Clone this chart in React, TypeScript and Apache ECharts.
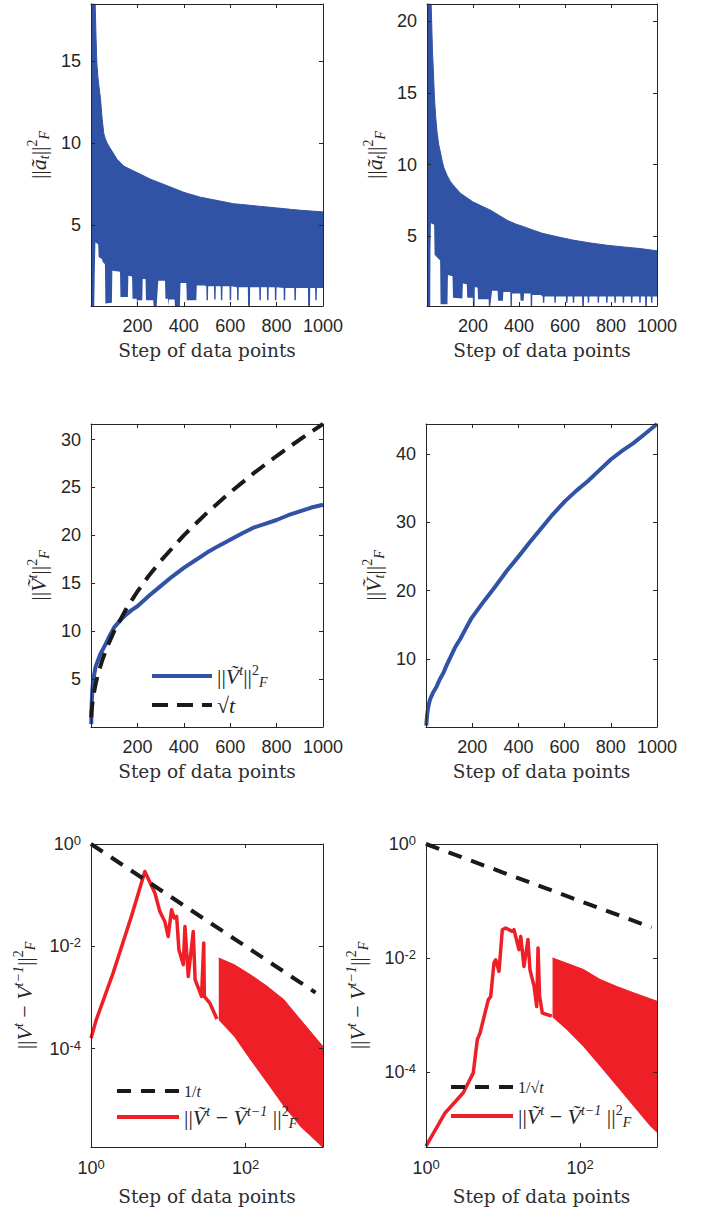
import React, { useEffect, useRef } from 'react';
import * as echarts from 'echarts';

const W = 709;
const H = 1214;
const BLUE = '#3153a5';
const RED = '#ee1f26';
const BLACK = '#1a1a1a';
const DARK = '#262626';
const SANS = '"Liberation Sans", Arial, Helvetica, sans-serif';
const SERIF = '"Liberation Serif", "Times New Roman", serif';
const NAME_SERIF = '"DejaVu Serif", serif';

// ---------- shared tick labels ----------
const stepTicks = [200, 400, 600, 800, 1000];
const logXTicks = [1, 100];
const logYTicks = [1e-4, 1e-2, 1];

// ---------- Panel 1: ||a_t||_F^2 (left) ----------
const p1YTicks = [5, 10, 15];
const p1Upper: number[][] = [
  [1, 18.5], [18, 18.5], [20, 17.4], [22, 16.35], [24, 15.4], [26, 14.7], [30, 14.0], [34, 13.5],
  [41, 12.7], [48, 11.5], [55, 10.6], [62, 10.25], [70, 10.0], [80, 9.75], [91, 9.5], [102, 9.25],
  [113, 9.0], [127, 8.8], [141, 8.6], [162, 8.45], [184, 8.3], [220, 8.05], [256, 7.8], [292, 7.6],
  [328, 7.4], [364, 7.2], [399, 7.0], [435, 6.85], [471, 6.7], [507, 6.6], [543, 6.5], [578, 6.4],
  [614, 6.3], [650, 6.25], [686, 6.2], [722, 6.15], [758, 6.1], [794, 6.05], [829, 6.0], [865, 5.95],
  [901, 5.9], [950, 5.85], [1000, 5.8],
];
const p1Lower: number[][] = [
  [1, 0.05], [14, 0.05], [16, 2.0], [19, 3.95], [31, 3.8], [33, 3.05], [48, 2.9], [50, 2.75], [60, 2.6],
  [62, 0.2], [90, 0.25], [92, 2.2], [125, 2.15], [127, 0.6], [159, 0.6], [161, 1.9], [177, 1.85],
  [179, 0.5], [197, 0.5], [198, 0.05], [200, 0.05], [201, 0.4], [221, 0.4], [223, 1.7], [235, 1.7],
  [237, 0.4], [268, 0.4], [270, 0.05], [283, 0.05], [290, 1.6], [319, 1.6], [321, 0.5], [332, 0.5],
  [333, 0.05], [335, 0.05], [336, 0.45], [360, 0.45], [362, 0.05], [383, 0.05], [386, 1.45], [411, 1.45],
  [413, 0.4], [454, 0.4], [456, 1.3], [489, 1.3], [497, 1.25], [498, 0.4], [504, 0.4], [505, 1.25],
  [530, 1.25], [531, 0.45], [537, 0.45], [538, 1.25], [559, 1.25], [560, 0.4], [566, 0.4], [567, 1.25],
  [597, 1.25], [598, 0.4], [604, 0.4], [605, 1.25], [629, 1.2], [630, 0.4], [636, 0.4], [637, 1.2],
  [676, 1.2], [677, 0.05], [685, 0.05], [686, 1.2], [725, 1.2], [726, 0.4], [732, 0.4], [733, 1.2],
  [758, 1.2], [759, 0.4], [765, 0.4], [766, 1.2], [792, 1.2], [793, 0.4], [799, 0.4], [800, 1.2],
  [830, 1.15], [831, 0.4], [837, 0.4], [838, 1.15], [876, 1.15], [877, 0.4], [883, 0.4], [884, 1.15],
  [935, 1.15], [936, 0.05], [944, 0.05], [945, 1.15], [966, 1.15], [967, 0.4], [973, 0.4], [974, 1.15],
  [1000, 1.15],
];

// ---------- Panel 2: ||a_t||_F^2 (right) ----------
const p2YTicks = [5, 10, 15, 20];
const p2Upper: number[][] = [
  [1, 21.2], [18, 21.2], [20, 20.1], [22, 19.0], [24, 17.8], [27, 16.8], [30, 15.6], [33, 14.5],
  [38, 13.3], [44, 12.2], [51, 11.4], [59, 10.8], [66, 10.25], [73, 9.8], [87, 9.25], [102, 8.8],
  [123, 8.4], [145, 8.0], [172, 7.7], [199, 7.4], [238, 7.1], [278, 6.8], [314, 6.45], [350, 6.1],
  [386, 5.85], [423, 5.65], [462, 5.42], [502, 5.2], [570, 4.95], [637, 4.72], [710, 4.53], [782, 4.37],
  [854, 4.25], [926, 4.14], [1000, 3.98],
];
const p2Lower: number[][] = [
  [1, 0.13], [14, 0.13], [15, 4.0], [17, 5.9], [31, 5.8], [33, 3.7], [57, 3.3], [59, 0.25], [89, 0.25],
  [91, 2.3], [111, 2.2], [113, 0.7], [154, 0.65], [156, 1.7], [173, 1.65], [175, 0.7], [199, 0.7],
  [200, 0.13], [207, 0.13], [208, 1.45], [220, 1.4], [222, 0.6], [268, 0.6], [269, 0.13], [275, 0.13],
  [283, 1.2], [307, 1.2], [309, 0.5], [330, 0.5], [332, 1.1], [362, 1.1], [363, 0.13], [369, 0.13],
  [370, 1.0], [405, 1.0], [407, 0.5], [420, 0.5], [422, 1.0], [450, 1.0], [451, 0.13], [457, 0.13],
  [458, 0.9], [495, 0.9], [503, 0.8], [504, 0.35], [510, 0.35], [511, 0.8], [553, 0.8], [554, 0.35],
  [560, 0.35], [561, 0.8], [604, 0.8], [605, 0.35], [611, 0.35], [612, 0.8], [633, 0.8], [634, 0.35],
  [640, 0.35], [641, 0.8], [674, 0.8], [675, 0.13], [682, 0.13], [683, 0.8], [698, 0.8], [699, 0.35],
  [705, 0.35], [706, 0.8], [741, 0.8], [742, 0.35], [748, 0.35], [749, 0.8], [778, 0.8], [779, 0.35],
  [785, 0.35], [786, 0.8], [814, 0.8], [815, 0.35], [821, 0.35], [822, 0.8], [850, 0.8], [851, 0.35],
  [857, 0.35], [858, 0.8], [886, 0.8], [887, 0.35], [893, 0.35], [894, 0.8], [922, 0.8], [923, 0.35],
  [929, 0.35], [930, 0.8], [948, 0.8], [949, 0.13], [956, 0.13], [957, 0.8], [973, 0.8], [974, 0.35],
  [980, 0.35], [981, 0.8], [1000, 0.8],
];

// ---------- Panel 3: ||V^t||_F^2 vs sqrt(t) ----------
const p3YTicks = [5, 10, 15, 20, 25, 30];
const p3Norm: number[][] = [
  [1, 0.3], [3, 2.5], [6, 4.0], [10, 5.0], [20, 6.3], [40, 7.6], [60, 8.5], [80, 9.5], [100, 10.4],
  [125, 11.1], [150, 11.7], [175, 12.2], [200, 12.6], [250, 13.7], [300, 14.7], [350, 15.7], [400, 16.6],
  [450, 17.4], [500, 18.2], [550, 18.9], [600, 19.55], [650, 20.2], [700, 20.8], [750, 21.2], [800, 21.6],
  [850, 22.1], [900, 22.5], [950, 22.9], [1000, 23.2],
];
const p3Sqrt: number[][] = [
  [1, 1], [2, 1.41], [3, 1.73], [5, 2.24], [7, 2.65], [10, 3.16], [15, 3.87], [20, 4.47], [25, 5],
  [35, 5.92], [50, 7.07], [70, 8.37], [100, 10], [150, 12.25], [200, 14.14], [250, 15.81], [300, 17.32],
  [400, 20], [500, 22.36], [600, 24.49], [700, 26.46], [800, 28.28], [900, 30], [1000, 31.62],
];

// ---------- Panel 4: ||V_t||_F^2 ----------
const p4YTicks = [10, 20, 30, 40];
const p4Norm: number[][] = [
  [1, 0.2], [5, 1.8], [10, 3.0], [17, 4.0], [30, 5.0], [46, 5.95], [60, 7.0], [75, 7.9], [90, 9.1],
  [104, 10.1], [125, 11.6], [150, 13.0], [175, 14.6], [198, 16.0], [250, 18.4], [300, 20.6], [350, 22.9],
  [401, 25.0], [450, 27.1], [501, 29.2], [550, 31.2], [602, 33.1], [650, 34.6], [700, 36.0], [750, 37.6],
  [800, 39.2], [850, 40.5], [898, 41.6], [950, 43.0], [1000, 44.4],
];

// ---------- Panel 5: ||V^t - V^{t-1}||_F^2 vs 1/t ----------
const p5Diff: number[][] = [
  [1, 1.6e-4], [1.17, 3.67e-4], [1.93, 3.0e-3], [3.33, 3.85e-2], [4.97, 0.29], [6.7, 0.11],
  [7.77, 0.048], [9.0, 0.0307], [9.95, 0.0156], [11.0, 0.052], [11.9, 0.0357], [12.8, 0.0385],
  [13.7, 0.0086], [15.6, 0.0044], [16.4, 0.0245], [18.1, 0.00258], [21.0, 0.0196], [22.2, 0.00223],
  [26.9, 0.00105], [28.7, 0.0116], [29.2, 0.00105], [34.4, 0.00078], [42.5, 0.00038],
];
const p5BandUpper: number[][] = [
  [44.9, 5.9e-3], [70.6, 4.4e-3], [115, 2.8e-3], [189, 1.66e-3], [311, 9.1e-4], [510, 3.7e-4], [1000, 1.1e-4],
];
const p5BandLower: number[][] = [
  [43.5, 3.8e-4], [70.6, 1.74e-4], [115, 6.0e-5], [189, 2.14e-5], [311, 7.4e-6], [510, 3.0e-6], [1000, 1.15e-6],
];
const p5Inv: number[][] = [[1, 1], [3, 0.333], [10, 0.1], [30, 0.0333], [100, 0.01], [300, 0.00333], [800, 0.00125]];

// ---------- Panel 6: ||V^t - V^{t-1}||_F^2 vs 1/sqrt(t) ----------
const p6Diff: number[][] = [
  [1, 4.95e-6], [1.77, 1.9e-5], [3.05, 4.3e-5], [4.11, 9.6e-5], [4.64, 3.7e-4], [5.03, 4.8e-4],
  [6.45, 1.86e-3], [6.92, 2.1e-3], [7.64, 8.2e-3], [8.04, 9.3e-3], [8.87, 5.8e-3], [9.8, 0.0313],
  [10.8, 0.0336], [13.2, 0.0293], [13.9, 0.0313], [16.1, 0.014], [17.0, 0.0239], [18.7, 7.1e-3],
  [21.1, 0.021], [22.4, 6.2e-3], [25.3, 3.2e-3], [27.4, 1.4e-3], [28.5, 0.015], [29.9, 2.1e-3],
  [32.4, 1.08e-3], [43.0, 9.5e-4],
];
const p6BandUpper: number[][] = [
  [44, 0.01], [67, 8.1e-3], [110, 6.3e-3], [182, 4.2e-3], [300, 3.16e-3], [494, 2.45e-3], [1000, 1.74e-3],
];
const p6BandLower: number[][] = [
  [42.5, 9.5e-4], [67, 5.5e-4], [110, 2.8e-4], [182, 1.26e-4], [300, 5.6e-5], [494, 2.5e-5], [810, 1.12e-5], [1000, 8.5e-6],
];
const p6InvSqrt: number[][] = [[1, 1], [10, 0.316], [100, 0.1], [850, 0.0343]];

// ---------- names ----------
const NAME_NORM_VT = '‖Ṽᵗ‖²F';
const NAME_SQRT = '√t';
const NAME_INV = '1/t';
const NAME_INVSQRT = '1/√t';
const NAME_DIFF = '‖Ṽᵗ − Ṽᵗ⁻¹‖²F';

const legendRichText: Record<string, string> = {
  [NAME_NORM_VT]: '{m|||}{i|Ṽ}{sup|t}{m|||}{sup2|2}{sub|F}',
  [NAME_SQRT]: '{m|√}{i|t}',
  [NAME_INV]: '{f|1/}{fi|t}',
  [NAME_INVSQRT]: '{f|1/√}{fi|t}',
  [NAME_DIFF]: '{m|||}{i|Ṽ}{sup|t}{m| − }{i|Ṽ}{sup|t−1}{m| ||}{sup2|2}{sub|F}',
};

const mathRich = {
  m: { fontFamily: SERIF, fontSize: 22, color: DARK, lineHeight: 26, verticalAlign: 'middle' },
  i: { fontFamily: SERIF, fontStyle: 'italic', fontSize: 22, color: DARK, lineHeight: 26, verticalAlign: 'middle' },
  sup: { fontFamily: SERIF, fontStyle: 'italic', fontSize: 14, color: DARK, lineHeight: 14, verticalAlign: 'top' },
  sup2: { fontFamily: SERIF, fontSize: 14, color: DARK, lineHeight: 14, verticalAlign: 'top' },
  sub: { fontFamily: SERIF, fontStyle: 'italic', fontSize: 14, color: DARK, lineHeight: 14, verticalAlign: 'bottom' },
  f: { fontFamily: SERIF, fontSize: 16, color: DARK, lineHeight: 26, verticalAlign: 'middle' },
  fi: { fontFamily: SERIF, fontStyle: 'italic', fontSize: 16, color: DARK, lineHeight: 26, verticalAlign: 'middle' },
};

const yNames = [
  '{m|||}{i|ã}{sub|t}{m|||}{sup2|2}{sub|F}',
  '{m|||}{i|ã}{sub|t}{m|||}{sup2|2}{sub|F}',
  '{m|||}{i|Ṽ}{sup|t}{m|||}{sup2|2}{sub|F}',
  '{m|||}{i|Ṽ}{sub|t}{m|||}{sup2|2}{sub|F}',
  '{m|||}{i|V}{sup|t}{m| − }{i|V}{sup|t−1}{m|||}{sup2|2}{sub|F}',
  '{m|||}{i|V}{sup|t}{m| − }{i|V}{sup|t−1}{m|||}{sup2|2}{sub|F}',
];

const grids = [
  { left: 91, top: 4, width: 232, height: 302 },
  { left: 427, top: 4, width: 230, height: 302 },
  { left: 91, top: 424, width: 232, height: 303 },
  { left: 426, top: 424, width: 231, height: 303 },
  { left: 91, top: 844, width: 232, height: 303 },
  { left: 426, top: 844, width: 231, height: 303 },
];

const logFmt = (v: number) => {
  const lg = Math.log10(v);
  const e = Math.round(lg);
  if (Math.abs(lg - e) > 1e-6) return '';
  return `{b|10}{s|${e}}`;
};
const logRich = {
  b: { fontFamily: SANS, fontSize: 18, color: DARK, lineHeight: 20, padding: [6, 0, 6, 0], verticalAlign: 'middle' },
  s: { fontFamily: SANS, fontSize: 13, color: DARK, lineHeight: 14, verticalAlign: 'top' },
};

type AxisCfg = { type: 'value' | 'log'; min: number; max: number; ticks: number[] };

const lineStyleAxis = { color: DARK, width: 1 };

function axisBase(grid: number, c: AxisCfg) {
  const base: any = {
    type: c.type,
    gridIndex: grid,
    min: c.min,
    max: c.max,
    z: 5,
    splitLine: { show: false },
    axisLine: { show: true, onZero: false, lineStyle: lineStyleAxis },
    axisTick: { show: true, inside: true, length: 4, customValues: c.ticks, lineStyle: lineStyleAxis },
  };
  if (c.type === 'log') base.logBase = 10;
  return base;
}

function labelCfg(c: AxisCfg, margin: number) {
  return {
    show: true,
    customValues: c.ticks,
    margin,
    color: DARK,
    fontFamily: SANS,
    fontSize: 18,
    formatter: c.type === 'log' ? logFmt : (v: number) => String(v),
    rich: logRich,
  };
}

function xAxes(grid: number, c: AxisCfg, nameGap: number) {
  return [
    {
      ...axisBase(grid, c),
      position: 'bottom',
      name: 'Step of data points',
      nameLocation: 'middle',
      nameGap,
      nameTextStyle: { fontFamily: NAME_SERIF, fontSize: 18.5, color: '#2e2e2e' },
      axisLabel: labelCfg(c, 11),
    },
    { ...axisBase(grid, c), position: 'top', axisLabel: { show: false } },
  ];
}

function yAxes(grid: number, c: AxisCfg, nameGap: number) {
  return [
    {
      ...axisBase(grid, c),
      position: 'left',
      name: yNames[grid],
      nameLocation: 'middle',
      nameRotate: 90,
      nameGap,
      nameTextStyle: { rich: mathRich, color: DARK },
      axisLabel: labelCfg(c, 10),
    },
    { ...axisBase(grid, c), position: 'right', axisLabel: { show: false } },
  ];
}

const linX: AxisCfg = { type: 'value', min: 0, max: 1000, ticks: stepTicks };
const logX: AxisCfg = { type: 'log', min: 1, max: 1000, ticks: logXTicks };

function lineSeries(grid: number, data: number[][], extra: any) {
  return {
    type: 'line',
    xAxisIndex: grid * 2,
    yAxisIndex: grid * 2,
    data,
    symbol: 'none',
    showSymbol: false,
    silent: true,
    ...extra,
  };
}

function upperArea(grid: number, data: number[][], color: string) {
  return lineSeries(grid, data, {
    z: 2,
    lineStyle: { color, width: 1 },
    areaStyle: { color, opacity: 1, origin: 'start' },
  });
}
function lowerMask(grid: number, data: number[][]) {
  return lineSeries(grid, data, {
    z: 3,
    lineStyle: { width: 0, opacity: 0 },
    areaStyle: { color: '#ffffff', opacity: 1, origin: 'start' },
  });
}

function buildOption(): any {
  const xAxis = [
    ...xAxes(0, linX, 35),
    ...xAxes(1, linX, 35),
    ...xAxes(2, linX, 35),
    ...xAxes(3, linX, 35),
    ...xAxes(4, logX, 40),
    ...xAxes(5, logX, 40),
  ];
  const yAxis = [
    ...yAxes(0, { type: 'value', min: 0.05, max: 18.5, ticks: p1YTicks }, 40),
    ...yAxes(1, { type: 'value', min: 0.13, max: 21.2, ticks: p2YTicks }, 40),
    ...yAxes(2, { type: 'value', min: 0, max: 31.62, ticks: p3YTicks }, 40),
    ...yAxes(3, { type: 'value', min: 0, max: 44.4, ticks: p4YTicks }, 40),
    ...yAxes(4, { type: 'log', min: 1.2e-6, max: 1, ticks: logYTicks }, 54),
    ...yAxes(5, { type: 'log', min: 4.8e-6, max: 1, ticks: logYTicks }, 56),
  ];

  const series = [
    upperArea(0, p1Upper, BLUE),
    lowerMask(0, p1Lower),
    upperArea(1, p2Upper, BLUE),
    lowerMask(1, p2Lower),
    lineSeries(2, p3Norm, { name: NAME_NORM_VT, z: 4, lineStyle: { color: BLUE, width: 4, join: 'round' }, itemStyle: { color: BLUE } }),
    lineSeries(2, p3Sqrt, { name: NAME_SQRT, z: 5, lineStyle: { color: BLACK, width: 4, type: [16, 9] }, itemStyle: { color: BLACK } }),
    lineSeries(3, p4Norm, { z: 4, lineStyle: { color: BLUE, width: 4, join: 'round' } }),
    upperArea(4, p5BandUpper, RED),
    lowerMask(4, p5BandLower),
    lineSeries(4, p5Diff, { name: NAME_DIFF, z: 4, lineStyle: { color: RED, width: 3.5, join: 'round' }, itemStyle: { color: RED } }),
    lineSeries(4, p5Inv, { name: NAME_INV, z: 5, lineStyle: { color: BLACK, width: 4, type: [14, 10] }, itemStyle: { color: BLACK } }),
    upperArea(5, p6BandUpper, RED),
    lowerMask(5, p6BandLower),
    lineSeries(5, p6Diff, { name: NAME_DIFF, z: 4, lineStyle: { color: RED, width: 3.5, join: 'round' }, itemStyle: { color: RED } }),
    lineSeries(5, p6InvSqrt, { name: NAME_INVSQRT, z: 5, lineStyle: { color: BLACK, width: 4, type: [14, 10] }, itemStyle: { color: BLACK } }),
  ];

  const legendBase = {
    orient: 'vertical',
    selectedMode: false,
    itemHeight: 14,
    textStyle: { color: DARK, rich: mathRich },
    formatter: (name: string) => legendRichText[name] || name,
    lineStyle: { width: 4 },
    itemStyle: { opacity: 0, borderWidth: 0 },
    z: 10,
  };

  const legend = [
    { ...legendBase, left: 145, top: 658, itemWidth: 60, itemGap: 5, data: [NAME_NORM_VT, NAME_SQRT] },
    { ...legendBase, left: 110, top: 1078, itemWidth: 62, itemGap: 5, data: [NAME_INV, NAME_DIFF] },
    { ...legendBase, left: 444, top: 1074, itemWidth: 62, itemGap: 8, data: [NAME_INVSQRT, NAME_DIFF] },
  ];

  return {
    animation: false,
    backgroundColor: '#ffffff',
    grid: grids.map((g) => ({ ...g, containLabel: false })),
    xAxis,
    yAxis,
    legend,
    series,
  };
}

export default function App() {
  const ref = useRef<HTMLDivElement>(null);
  useEffect(() => {
    if (!ref.current) return;
    const chart = echarts.init(ref.current, undefined, { renderer: 'svg' });
    chart.setOption(buildOption());
    return () => chart.dispose();
  }, []);
  return (
    <div
      ref={ref}
      style={{ position: 'absolute', left: 0, top: 0, width: W, height: H, background: '#fff' }}
    />
  );
}
